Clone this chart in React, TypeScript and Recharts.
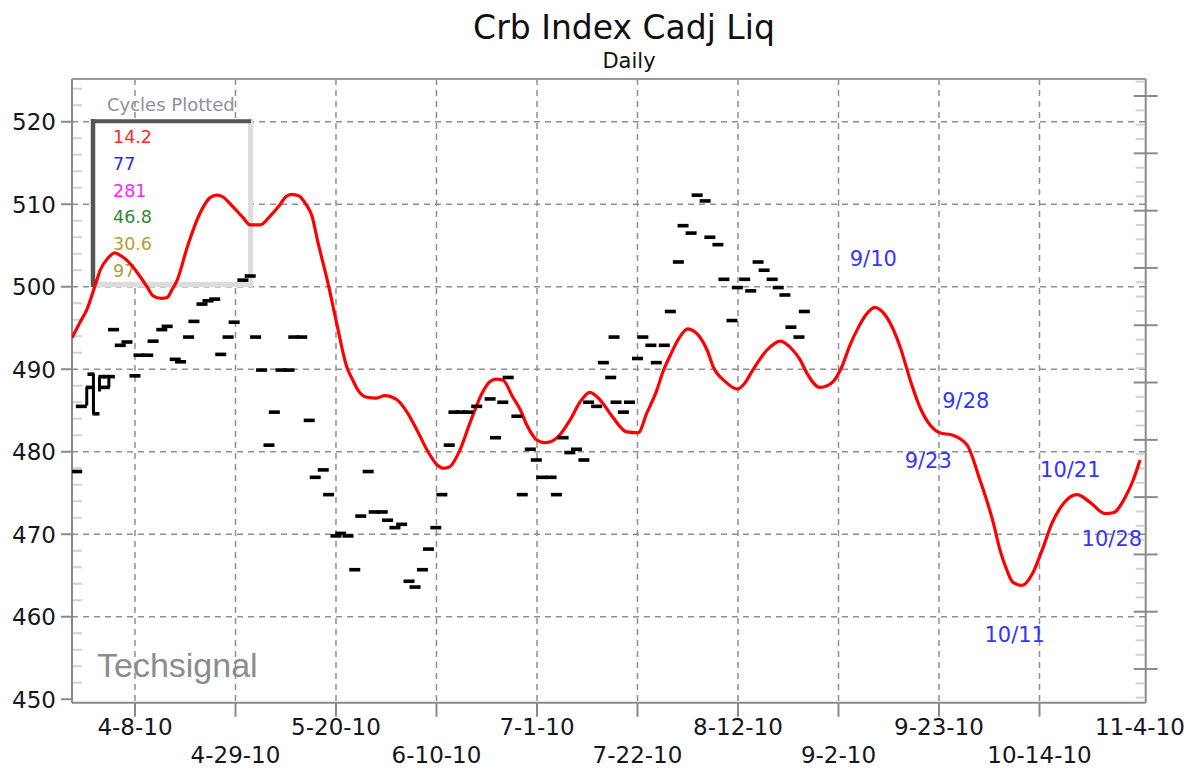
import React from "react";
import {
  ComposedChart,
  Line,
  Scatter,
  XAxis,
  YAxis,
  CartesianGrid,
  ReferenceLine,
} from "recharts";

// x = trading-day index, 0 = 4-8-10, one unit per session
const dateTickDays = [0, 15, 30, 45, 60, 75, 90, 105, 120, 135, 150];
const dateTickLabels = [
  "4-8-10", "4-29-10", "5-20-10", "6-10-10", "7-1-10", "7-22-10",
  "8-12-10", "9-2-10", "9-23-10", "10-14-10", "11-4-10",
];
const gridValues = [460, 470, 480, 490, 500, 510, 520];
const rightMajorTicks = [
  523.12, 516.17, 509.22, 502.28, 495.33, 488.39, 481.44, 474.5, 467.55, 460.61, 453.66,
];

// composite cycle line
const cycleDays = [
  -9.4, -8.2, -7.2, -5.7, -5.2, -4.0, -3.0, -2.2, -1.2, -0.3, 0.7, 1.8, 2.7, 3.9, 4.8, 5.5,
  6.3, 7.8, 9.7, 11.2, 12.2, 13.1, 14.6, 16.0, 17.2, 18.7, 20.1, 21.6, 22.5, 23.4, 24.5,
  25.5, 26.4, 27.3, 28.7, 30.1, 31.6, 32.5, 33.1, 34.6, 36.0, 37.3, 39.1, 40.6, 42.1, 43.6,
  45.1, 46.1, 47.0, 48.5, 50.0, 51.8, 53.0, 53.9, 54.9, 56.4, 57.5, 58.5, 60.0, 61.2, 63.0,
  64.9, 66.4, 67.9, 69.4, 71.3, 73.4, 75.1, 76.4, 77.9, 78.8, 79.9, 81.3, 82.5, 83.6, 84.3,
  85.4, 86.3, 88.1, 89.9, 91.0, 92.2, 94.3, 96.3, 98.2, 99.3, 100.3, 102.2, 103.3, 104.2,
  105.5, 106.7, 107.8, 109.1, 110.4, 112.2, 114.2, 115.7, 117.2, 118.7, 120.1, 122.1, 124.2,
  126.1, 128.1, 129.1, 130.1, 131.0, 132.4, 134.0, 135.4, 136.9, 138.1, 139.1, 140.6, 142.5,
  144.8, 146.0, 147.8, 149.0, 150.0,
];
const cycleValues = [
  493.8, 495.7, 497.2, 500.8, 502.0, 503.5, 504.1, 503.8, 503.2, 502.4, 501.3, 500.0, 498.9,
  498.6, 498.7, 499.6, 500.8, 504.8, 508.9, 510.8, 511.1, 510.9, 509.7, 508.5, 507.5, 507.5,
  508.5, 509.9, 510.9, 511.2, 511.0, 510.0, 508.6, 505.4, 500.8, 495.6, 490.3, 488.7, 487.7,
  486.6, 486.5, 486.8, 486.3, 484.8, 482.6, 480.2, 478.4, 478.0, 478.2, 480.2, 483.5, 487.1,
  488.5, 488.8, 488.7, 486.6, 485.1, 483.2, 481.4, 481.1, 481.7, 483.8, 486.0, 487.2, 486.3,
  484.2, 482.4, 482.3, 484.7, 487.5, 489.7, 491.7, 493.9, 494.9, 494.5, 493.9, 492.3, 490.3,
  488.5, 487.6, 488.3, 489.9, 492.3, 493.4, 492.3, 491.1, 489.5, 487.8, 488.0, 488.5, 490.3,
  492.9, 494.8, 496.6, 497.5, 496.3, 492.7, 488.7, 485.3, 483.2, 482.3, 482.0, 480.8, 476.6,
  471.4, 468.1, 465.7, 464.2, 463.8, 465.3, 468.1, 471.4, 473.2, 474.2, 474.8, 473.9, 472.5,
  472.6, 474.5, 476.6, 479.0,
];

// black dash marks
const dashDays = [
  -8.7, -8.0, -4.6, -3.2, -2.2, -1.2, 0.0, 0.6, 1.9, 2.7, 4.0, 4.8, 6.0, 6.8, 8.0, 8.8, 10.0,
  10.9, 11.9, 12.8, 13.9, 14.8, 16.1, 17.2, 18.0, 18.9, 20.0, 20.8, 21.8, 23.0, 23.7, 24.9,
  26.0, 26.9, 28.1, 28.9, 30.0, 30.7, 31.8, 32.8, 33.7, 34.8, 35.7, 36.9, 37.7, 38.8, 39.8,
  40.9, 41.8, 42.9, 43.8, 44.9, 45.8, 46.9, 47.6, 48.7, 49.7, 51.0, 53.0, 53.8, 54.9, 55.7,
  57.0, 57.8, 59.0, 59.9, 60.7, 62.1, 62.9, 63.9, 64.9, 65.9, 67.0, 67.7, 68.9, 69.9, 71.0,
  71.5, 71.8, 72.9, 73.8, 75.0, 75.8, 77.0, 77.8, 79.0, 79.9, 81.1, 81.8, 83.0, 83.9, 85.1,
  85.8, 87.0, 87.9, 89.1, 89.9, 91.0, 91.9, 93.0, 93.9, 95.1, 96.0, 97.0, 97.9, 99.1, 99.9,
];
const dashValues = [
  477.6, 485.5, 487.8, 494.8, 492.9, 493.3, 489.2, 491.7, 491.7, 493.4, 494.8, 495.2, 491.2,
  490.9, 493.9, 495.8, 497.9, 498.3, 498.5, 491.8, 493.9, 495.7, 500.8, 501.3, 493.9, 489.9,
  480.8, 484.8, 489.9, 489.9, 493.9, 493.9, 483.8, 476.9, 477.8, 474.8, 469.8, 470.1, 469.8,
  465.7, 472.2, 477.6, 472.7, 472.7, 471.7, 470.8, 471.2, 464.3, 463.6, 465.7, 468.2, 470.8,
  474.8, 480.8, 484.8, 484.8, 484.8, 485.5, 486.4, 481.7, 486.0, 489.0, 484.3, 474.8, 480.3,
  479.0, 476.9, 476.9, 474.8, 481.7, 479.9, 480.3, 479.0, 486.0, 485.5, 490.8, 489.0, 493.9,
  486.0, 484.8, 486.0, 491.3, 493.9, 492.9, 490.8, 492.9, 497.0, 503.0, 507.4, 506.5, 511.1,
  510.4, 506.0, 505.1, 500.9, 495.9, 499.9, 500.9, 499.5, 503.0, 502.0, 500.9, 499.9, 499.0,
  495.1, 493.9, 497.0,
];

// the few full price bars at the start
const barDays = [-7.2, -6.2, -5.3, -3.9];
const barHigh = [487.8, 489.4, 489.1, 489.1];
const barLow = [485.6, 484.6, 487.3, 487.8];
const barOpen = [null, 489.4, null, 489.1];
const barClose = [487.8, 484.6, 489.1, 489.1];

// date notes
const noteLabels = ["9/10", "9/28", "9/23", "10/21", "10/28", "10/11"];
const noteDays = [110.2, 124.0, 118.4, 139.6, 145.8, 131.3];
const noteValues = [503.4, 486.2, 479.0, 477.8, 469.5, 457.9];

// legend
const cycleLengths = ["14.2", "77", "281", "46.8", "30.6", "97"];
const cycleColors = ["#ff2a2a", "#2b2be0", "#ff22ff", "#2e8b2e", "#b0a030", "#a8a040"];

const W = 1196;
const H = 772;
const PLOT = { left: 72, right: 1145.7, top: 79, bottom: 702.7 };
const X_DOMAIN = [-9.4, 150.85];
const Y_DOMAIN = [449.58, 525.18];
const FONT = "'DejaVu Sans', Verdana, sans-serif";
const AXIS_GRAY = "#8a8a8a";

const leftTicks = Array.from({ length: 38 }, (_, i) => 450 + i * 2);
const rightTicks: number[] = [];
rightMajorTicks.forEach((v, i) => {
  rightTicks.push(v);
  const next = rightMajorTicks[i + 1];
  if (next !== undefined) {
    const step = (next - v) / 4;
    for (let k = 1; k < 4; k++) rightTicks.push(v + step * k);
  }
});
rightTicks.push(rightMajorTicks[0] + 1.736, 453.66 - 1.736, 453.66 - 3.472);

const cycleData = cycleDays.map((t, i) => ({ t, v: cycleValues[i] }));
const dashData = dashDays.map((t, i) => ({ t, v: dashValues[i] }));
const openData = barDays
  .map((t, i) => ({ t, v: barOpen[i] }))
  .filter((d) => d.v !== null);
const closeData = barDays
  .map((t, i) => ({ t, v: barClose[i] }))
  .filter((d) => d.v !== null);
const noteData = noteDays.map((t, i) => ({ t, v: noteValues[i], label: noteLabels[i] }));

// grid positions from the plot box and the axis domains
const gridX = ({ offset }: any) =>
  dateTickDays
    .slice(0, -1)
    .map((d) => offset.left + ((d - X_DOMAIN[0]) / (X_DOMAIN[1] - X_DOMAIN[0])) * offset.width);
const gridY = ({ offset }: any) =>
  gridValues.map(
    (v) => offset.top + ((Y_DOMAIN[1] - v) / (Y_DOMAIN[1] - Y_DOMAIN[0])) * offset.height
  );

const LeftTick = (props: any) => {
  const { x, y, payload } = props;
  if (payload.value % 10 === 0) {
    return (
      <g>
        <line x1={x - 11} x2={x} y1={y} y2={y} stroke={AXIS_GRAY} strokeWidth={2} />
        <text x={x - 16} y={y} dy="0.36em" textAnchor="end" fontSize={23} fontFamily={FONT} fill="#15151f">
          {payload.value}
        </text>
      </g>
    );
  }
  return <line x1={x + 1} x2={x + 10} y1={y} y2={y} stroke="#d2d2d2" strokeWidth={2} />;
};

const RightTick = (props: any) => {
  const { x, y, payload } = props;
  const major = rightMajorTicks.some((m) => Math.abs(m - payload.value) < 0.01);
  return major ? (
    <line x1={x - 12} x2={x + 12} y1={y} y2={y} stroke={AXIS_GRAY} strokeWidth={2} />
  ) : (
    <line x1={x - 10} x2={x - 1} y1={y} y2={y} stroke="#d2d2d2" strokeWidth={2} />
  );
};

const DateTick = (props: any) => {
  const { x, y, payload } = props;
  const i = dateTickDays.indexOf(payload.value);
  return (
    <g>
      {i < dateTickDays.length - 1 && (
        <line x1={x} x2={x} y1={y} y2={y + 14} stroke={AXIS_GRAY} strokeWidth={2} />
      )}
      <text
        x={x}
        y={y + (i % 2 === 0 ? 24 : 52)}
        dy="0.36em"
        textAnchor="middle"
        fontSize={23}
        fontFamily={FONT}
        fill="#15151f"
      >
        {dateTickLabels[i]}
      </text>
    </g>
  );
};

const Dash = (p: any) => <rect x={p.cx - 5.5} y={p.cy - 1.8} width={11} height={3.6} fill="#000" />;
const OpenTick = (p: any) => <rect x={p.cx - 6} y={p.cy - 1.8} width={7} height={3.6} fill="#000" />;
const CloseTick = (p: any) => <rect x={p.cx - 1} y={p.cy - 1.8} width={7} height={3.6} fill="#000" />;
const Note = (p: any) => (
  <text x={p.cx} y={p.cy} dy="0.36em" textAnchor="middle" fontSize={21} fontFamily={FONT} fill="#3434ff">
    {p.payload.label}
  </text>
);

const layer: React.CSSProperties = { position: "absolute", left: 0, top: 0 };

export default function App() {
  return (
    <div style={{ ...layer, width: W, height: H, background: "#fff" }}>
      {/* grid and axes */}
      <div style={layer}>
        <ComposedChart width={W} height={H} margin={{ top: PLOT.top, right: 0, bottom: 0, left: 0 }}>
          <CartesianGrid
            stroke="#8f8f8f"
            strokeWidth={1.5}
            strokeDasharray="6 5"
            verticalCoordinatesGenerator={gridX}
            horizontalCoordinatesGenerator={gridY}
          />
          <XAxis
            dataKey="t"
            type="number"
            domain={X_DOMAIN}
            allowDataOverflow
            ticks={dateTickDays}
            interval={0}
            height={H - PLOT.bottom}
            tickSize={0}
            tickMargin={0}
            tickLine={false}
            axisLine={{ stroke: AXIS_GRAY, strokeWidth: 2 }}
            tick={<DateTick />}
          />
          <YAxis
            type="number"
            domain={Y_DOMAIN}
            allowDataOverflow
            ticks={leftTicks}
            interval={0}
            width={PLOT.left}
            tickSize={0}
            tickMargin={0}
            tickLine={false}
            axisLine={{ stroke: AXIS_GRAY, strokeWidth: 2 }}
            tick={<LeftTick />}
          />
          <YAxis
            yAxisId="r"
            orientation="right"
            type="number"
            domain={Y_DOMAIN}
            allowDataOverflow
            ticks={rightTicks}
            interval={0}
            width={W - PLOT.right}
            tickSize={0}
            tickMargin={0}
            tickLine={false}
            axisLine={{ stroke: AXIS_GRAY, strokeWidth: 2 }}
            tick={<RightTick />}
          />
        </ComposedChart>
      </div>

      {/* titles, legend box, watermark */}
      <svg width={W} height={H} style={layer}>
        <text x={624} y={39} textAnchor="middle" fontSize={33} fontFamily={FONT} fill="#111">
          Crb Index Cadj Liq
        </text>
        <text x={629} y={68} textAnchor="middle" fontSize={21} fontFamily={FONT} fill="#111">
          Daily
        </text>
        <line x1={PLOT.left} x2={PLOT.right} y1={PLOT.top} y2={PLOT.top} stroke="#9a9a9a" strokeWidth={2} />
        <text x={107} y={105} dy="0.36em" fontSize={18} fontFamily={FONT} fill="#8a90a0">
          Cycles Plotted
        </text>
        <rect x={93} y={121} width={157.5} height={163.5} fill="#fff" />
        <line x1={250.5} x2={250.5} y1={119} y2={287} stroke="#dcdcdc" strokeWidth={5} />
        <line x1={91} x2={253} y1={284.5} y2={284.5} stroke="#dcdcdc" strokeWidth={5} />
        <line x1={93} x2={93} y1={119} y2={287} stroke="#555" strokeWidth={4.5} />
        <line x1={91} x2={251} y1={121.3} y2={121.3} stroke="#555" strokeWidth={4} />
        {cycleLengths.map((c, i) => (
          <text key={c} x={113} y={137 + i * 26.7} dy="0.36em" fontSize={17.5} fontFamily={FONT} fill={cycleColors[i]}>
            {c}
          </text>
        ))}
        <text x={97} y={677} fontSize={34} fontFamily="'Liberation Sans', Arial, sans-serif" fill="#8c8c8c">
          Techsignal
        </text>
      </svg>

      {/* series */}
      <div style={layer}>
        <ComposedChart
          width={W}
          height={H}
          margin={{ top: PLOT.top, right: W - PLOT.right, bottom: H - PLOT.bottom, left: PLOT.left }}
        >
          <XAxis dataKey="t" type="number" domain={X_DOMAIN} allowDataOverflow hide />
          <YAxis type="number" domain={Y_DOMAIN} allowDataOverflow hide />
          {barDays.map((d, i) => (
            <ReferenceLine
              key={d}
              segment={[
                { x: d, y: barHigh[i] },
                { x: d, y: barLow[i] },
              ]}
              stroke="#000"
              strokeWidth={3}
            />
          ))}
          <Scatter data={dashData} dataKey="v" shape={Dash} isAnimationActive={false} />
          <Scatter data={openData} dataKey="v" shape={OpenTick} isAnimationActive={false} />
          <Scatter data={closeData} dataKey="v" shape={CloseTick} isAnimationActive={false} />
          <Line
            data={cycleData}
            dataKey="v"
            type="monotone"
            stroke="#ff0000"
            strokeWidth={3.2}
            dot={false}
            activeDot={false}
            isAnimationActive={false}
          />
          <Scatter data={noteData} dataKey="v" shape={Note} isAnimationActive={false} />
        </ComposedChart>
      </div>
    </div>
  );
}
